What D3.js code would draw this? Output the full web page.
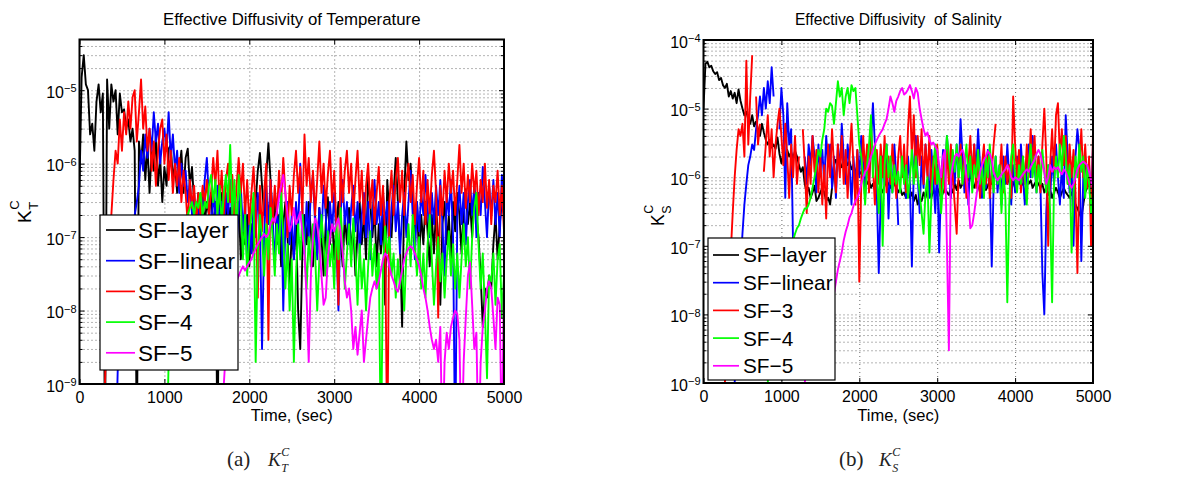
<!DOCTYPE html>
<html><head><meta charset="utf-8">
<script src="https://cdn.jsdelivr.net/npm/d3@7/dist/d3.min.js"></script>
<style>body{margin:0;background:#fff}svg{display:block}text{white-space:pre}</style>
</head><body>
<svg id="chart" width="1188" height="477"></svg>
<script>
// ---------------- data ----------------
const seriesNames = ["SF−layer", "SF−linear", "SF−3", "SF−4", "SF−5"];
const timeStep = 25;               // sec between samples
const timeDomain = [0, 5000];
const xTickValues = [0, 1000, 2000, 3000, 4000, 5000];
const yTickValuesT = [1e-9, 1e-8, 1e-7, 1e-6, 1e-5];
const yTickValuesS = [1e-9, 1e-8, 1e-7, 1e-6, 1e-5, 1e-4];
const yDomainT = [1e-9, 4.9e-5];
const yDomainS = [1e-9, 1e-4];
const titleT = "Effective Diffusivity of Temperature";
const titleS = "Effective Diffusivity  of Salinity";
const xLabel = "Time, (sec)";

// K_T^C, one sample every 25 s from 0 to 5000 s (null = not plotted)
const KT_layer = [
5e-7,1.5e-5,3e-5,1.2e-5,1e-5,2.5e-6,3.5e-6,1.5e-6,
7e-6,1.2e-5,5e-6,9e-6,1e-10,1.4e-5,3e-6,1.2e-5,
7e-6,1e-5,2.5e-6,9e-6,5e-6,5.5e-6,3e-6,4e-6,
2e-6,3e-6,1.5e-6,1e-10,2e-6,1e-6,2.5e-6,6e-7,
1.8e-6,4e-7,1.5e-6,8e-7,2.5e-6,5e-7,1.2e-6,3e-7,
9e-7,5e-7,1.6e-6,1.8e-6,6e-7,1e-6,4e-7,8e-7,
1.5e-6,4e-7,1.2e-6,1.6e-6,5e-7,9e-7,3e-7,2e-7,
4e-7,2.5e-7,3.5e-7,1.5e-7,3e-7,2e-7,4e-7,1.2e-7,
3e-7,1e-10,2.5e-7,4e-7,2e-7,3e-7,1e-7,2.5e-7,
6e-8,2e-7,1.2e-7,3e-7,5e-8,1.5e-7,8e-8,2e-7,
4e-8,1.5e-7,6e-8,3e-7,8e-7,1.4e-6,5e-7,2e-7,
7e-7,1.9e-6,6e-7,1.5e-7,3e-7,8e-8,2e-7,4e-8,
1.5e-7,3e-7,1e-7,2e-8,1.2e-7,5e-8,2e-7,1e-8,
3e-9,6e-8,2e-7,8e-8,3e-7,1.2e-7,4e-8,2e-7,
6e-8,2.5e-7,1e-7,3e-8,1.5e-7,3.5e-7,8e-8,2e-7,
5e-8,1.5e-7,3e-7,1e-7,4e-8,2e-7,8e-8,2.5e-7,
6e-8,1.5e-7,3e-8,1.2e-7,3e-7,8e-8,2e-7,5e-8,
7e-7,3e-7,1e-7,2.5e-7,4e-8,1.5e-7,6e-8,2e-7,
1.2e-8,6e-7,2e-7,1e-7,4e-7,1.2e-6,3e-7,8e-8,
6e-9,4e-7,2e-6,6e-7,1e-6,3e-7,1e-7,3e-7,
5e-8,2e-7,8e-8,3e-7,1.2e-7,4e-8,2e-7,6e-8,
2.5e-7,1e-7,1.2e-8,1.5e-7,3e-7,8e-8,2e-7,5e-8,
3e-7,1.2e-7,4e-7,2e-7,6e-8,2.5e-7,4.5e-7,1.5e-7,
3e-7,1e-7,5e-7,2e-7,1e-7,3e-8,6e-9,2e-8,
1.5e-8,3e-8,2e-8,8e-8,2e-7,5e-8,1.5e-7,3e-7,
2e-7];
const KT_linear = [
null,null,null,null,null,null,null,null,
null,null,null,null,null,null,null,null,
null,1e-10,1.5e-9,4e-9,1e-8,2e-8,4e-8,6e-8,
1e-7,1.5e-7,2e-7,3e-7,5e-7,1.5e-6,8e-7,2.5e-6,
1.2e-6,3e-6,1.5e-6,5e-6,2e-6,3.5e-6,1e-6,2e-6,
3e-6,1.5e-6,5e-6,1.2e-6,2.5e-6,8e-7,1.5e-6,4e-7,
1e-6,5e-7,8e-7,3e-7,6e-7,2e-7,4e-7,1.5e-7,
3e-7,1e-7,2.5e-7,6e-7,1.2e-6,3e-7,1e-7,4e-7,
2e-7,5e-7,1.5e-7,3e-7,8e-8,4e-7,2e-7,6e-7,
1.5e-7,3e-7,7e-8,2.5e-7,5e-7,1.2e-7,3e-7,4e-8,
2e-7,6e-8,3e-7,1e-7,4e-7,1.5e-7,3e-9,1e-7,
5e-7,1.5e-7,6e-7,2e-7,4e-8,2.5e-7,1e-7,4e-7,
1e-8,1.5e-7,3e-7,8e-8,2e-7,5e-8,3e-7,1.2e-7,
1e-6,2.5e-7,6e-8,3e-7,1e-7,4e-7,7e-7,1.5e-7,
5e-8,2.5e-7,1e-7,5e-7,2e-7,6e-8,3e-7,1.2e-7,
4e-7,1e-7,1e-8,2e-7,6e-7,1.5e-7,3e-7,8e-8,
2.5e-7,5e-7,1.2e-7,3e-7,6e-8,2e-7,4e-7,1e-7,
3e-7,5e-8,2e-7,6e-7,1.5e-7,3e-7,8e-8,4e-7,
1.5e-7,3e-7,7e-8,2.5e-7,5e-7,1.2e-7,3e-7,6e-8,
2e-7,4e-7,1e-7,3e-7,8e-7,2e-7,5e-8,3e-7,
1.2e-7,4e-7,2e-7,7e-7,2.5e-7,1e-7,4e-7,1.5e-7,
5e-7,2e-7,6e-7,1.5e-7,3e-8,4e-7,2e-7,6e-7,
1e-7,1e-10,2e-7,5e-7,1.5e-7,4e-7,8e-8,3e-7,
6e-7,2e-7,5e-7,1e-7,4e-7,2e-7,9e-7,3e-7,
1e-7,5e-7,2e-7,6e-7,1.5e-7,4e-7,1e-7,7e-7,
2e-7];
const KT_sf3 = [
null,null,null,null,null,null,null,null,
null,null,null,1e-10,1e-9,1e-8,5e-8,2e-7,
6e-7,1.5e-6,1e-6,4e-6,1.5e-6,5e-6,2.5e-6,7e-6,
3e-6,8e-6,1e-5,2e-6,5e-6,1.4e-5,3e-6,6e-6,
1.5e-6,3e-6,8e-7,2e-6,5e-7,1.5e-6,3e-6,4e-6,
1e-6,2.5e-6,6e-7,1.5e-6,4e-7,1e-6,5e-7,1.2e-6,
3e-7,8e-7,4e-7,1.5e-7,6e-7,2.5e-7,5e-7,1.5e-7,
4e-7,2e-7,5e-7,3e-7,6e-7,2e-7,4e-7,1.2e-6,
5e-7,1.5e-6,3e-7,8e-7,2e-7,6e-7,1e-6,3e-7,
7e-7,1.5e-7,5e-7,1.2e-6,4e-7,1e-6,2e-7,6e-7,
1.5e-7,4e-7,9e-7,2.5e-7,1.5e-8,5e-7,1.2e-7,4e-7,
1e-6,4e-9,6e-7,1.5e-7,5e-7,2e-7,8e-7,3e-7,
1.2e-6,4e-7,1e-7,5e-7,2e-7,7e-7,1.5e-6,4e-7,
9e-7,2e-7,2.5e-6,5e-7,1.2e-6,3e-7,8e-7,2e-7,
6e-7,2e-6,4e-7,1e-6,2.5e-7,7e-7,1.5e-6,3e-7,
8e-7,1.5e-7,1.2e-8,1.2e-6,3e-7,8e-7,1.5e-6,4e-7,
1e-6,2e-7,6e-7,1.5e-6,3e-7,8e-7,1.5e-7,5e-7,
1e-6,2.5e-7,6e-7,1.5e-7,4e-7,9e-7,2e-7,5e-7,
1e-7,1e-10,3e-7,8e-7,2e-7,6e-7,1.2e-6,3e-7,
8e-7,2e-7,6e-7,1e-6,3e-7,7e-7,1.5e-7,5e-7,
1.2e-6,3e-7,8e-7,1.5e-7,6e-7,2e-7,7e-7,1.5e-6,
4e-7,8e-9,5e-7,2e-7,8e-7,3e-7,1e-6,4e-7,
8e-7,2e-7,6e-7,1.8e-6,4e-7,1e-6,2.5e-7,7e-7,
3e-7,1e-6,4e-7,8e-7,2e-7,6e-7,3e-7,1e-6,
2.5e-7,6e-7,1.5e-7,5e-7,3e-7,8e-7,2e-7,5e-7,
1.2e-7];
const KT_sf4 = [
null,null,null,null,null,null,null,null,
null,null,null,null,null,null,null,null,
null,null,null,null,null,null,null,null,
null,null,null,null,null,null,null,null,
null,null,null,null,null,null,null,null,
null,1e-10,2e-9,6e-9,1.5e-8,3e-8,5e-8,8e-8,
1e-7,1.3e-7,1.6e-7,2e-7,2.5e-7,3e-7,2e-7,3e-7,
2.5e-7,4e-7,2e-7,3e-7,2.5e-7,5e-7,7e-7,3e-7,
6e-7,2e-7,5e-7,1.5e-7,4e-7,7e-7,3e-7,1.8e-6,
2e-7,6e-7,1e-7,7e-7,3e-7,5e-8,2e-7,3e-8,
1e-7,2e-7,4e-7,2e-9,6e-8,2e-7,1e-7,3e-8,
1.5e-7,5e-8,2.5e-7,1e-7,3e-8,1.5e-7,6e-8,4e-7,
1e-7,2e-8,8e-8,1e-8,5e-8,2e-9,3e-8,1.5e-7,
5e-8,2e-7,8e-8,2e-8,1e-7,4e-8,1.5e-7,6e-8,
1e-8,5e-8,2e-7,8e-8,3e-8,1.2e-7,4e-8,8e-8,
2e-8,1.5e-7,5e-8,2.5e-7,8e-8,2e-8,6e-8,1.5e-7,
4e-8,1.8e-7,6e-8,1.2e-8,8e-8,2e-8,5e-8,1e-8,
4e-8,1.2e-7,3e-8,8e-8,2e-8,6e-8,1e-10,4e-8,
1.4e-7,6e-8,1e-7,3e-8,6e-8,1.5e-8,5e-8,2e-8,
4e-8,1e-8,6e-8,1.5e-7,4e-8,2e-7,8e-8,3e-8,
1e-7,2e-8,6e-8,1.5e-8,8e-8,2e-7,5e-8,1.2e-8,
4e-8,1e-7,2.5e-8,6e-8,1.5e-8,5e-8,1.2e-7,3e-8,
8e-8,2e-8,6e-8,1.5e-8,5e-8,1.5e-7,4e-8,1e-7,
2e-8,1e-7,2.5e-7,4e-7,8e-8,2e-8,6e-8,1e-8,
1.2e-9,3e-8,2.5e-8,6e-8,1.2e-8,5e-8,8e-8,8e-9,
3e-8];
const KT_sf5 = [
null,null,null,null,null,null,null,null,
null,null,null,null,null,null,null,null,
null,null,null,null,null,null,null,null,
null,null,null,null,null,null,null,null,
null,null,null,null,null,null,null,null,
null,null,null,null,null,null,null,null,
null,null,null,null,null,null,null,null,
null,null,null,null,null,null,null,null,
null,null,null,1e-10,1e-9,3e-9,6e-9,1e-8,
1.5e-8,2e-8,2.5e-8,3e-8,3.5e-8,4e-8,3.5e-8,4e-8,
4.5e-8,5e-8,6e-8,7e-8,8e-8,9e-8,1e-7,1.1e-7,
1e-7,1.1e-7,1.5e-7,1.8e-7,1.6e-7,2.2e-7,3.5e-7,5e-7,
7e-7,4e-7,2e-7,1.2e-7,1.5e-7,2.5e-7,1.5e-7,1.8e-7,
2.2e-7,1.2e-7,6e-8,1.5e-8,2e-9,3e-8,1e-7,1.8e-7,
1.5e-7,8e-8,3e-8,1.2e-8,1.5e-8,5e-8,1e-7,1.5e-7,
1.2e-7,1.5e-7,1.8e-7,1.2e-7,6e-8,2.5e-8,1.5e-8,2e-8,
1e-8,3e-9,6e-9,2.5e-9,5e-9,1e-8,2e-9,4e-9,
8e-9,1.5e-8,2e-8,2.5e-8,2e-8,2.5e-8,3.5e-8,5e-8,
6e-8,5.5e-8,4e-8,3e-8,2.5e-8,2e-8,1.8e-8,2.5e-8,
3.5e-8,5e-8,6e-8,7e-8,7.5e-8,7e-8,6e-8,5e-8,
4e-8,3e-8,2e-8,1.5e-8,1e-8,6e-9,4e-9,3e-9,
4e-9,2e-9,6e-9,1e-10,2e-9,5e-9,3e-9,6e-9,
8e-9,1e-8,9e-9,4e-9,1e-10,2e-9,8e-9,3e-8,
4.5e-8,1.2e-8,3e-9,5e-9,1e-10,2e-9,6e-9,1e-8,
2e-8,2.5e-8,2e-8,8e-9,3e-9,1.5e-8,1.2e-8,1e-10,
3e-8];

// K_S^C, one sample every 25 s from 0 to 5000 s (null = not plotted)
const KS_layer = [
1e-5,4.5e-5,4.8e-5,4e-5,4.2e-5,3.5e-5,3.2e-5,3.4e-5,
2.6e-5,2.8e-5,2.2e-5,2e-5,2.3e-5,1.5e-5,1.8e-5,1.4e-5,
1.7e-5,1.2e-5,1.9e-5,1.3e-5,1e-5,8e-6,9e-6,7e-6,
6e-6,8e-6,5.5e-6,6.5e-6,5e-6,4e-6,6e-6,4.5e-6,
3.5e-6,3e-6,3.5e-6,2.7e-6,3e-6,2.6e-6,3.8e-6,2.2e-6,
1.6e-6,2.2e-6,1.8e-6,2.5e-6,2e-6,2.3e-6,1.9e-6,2.4e-6,
2e-6,1.5e-6,1.2e-6,1.4e-6,8e-7,6e-7,7e-7,5e-7,
6e-7,7.5e-7,4.5e-7,5e-7,6e-7,7e-7,6e-7,4.5e-7,
5e-7,4e-7,7e-7,1.5e-6,1.8e-6,1.6e-6,1.7e-6,1.4e-6,
1.6e-6,1.8e-6,1.5e-6,1.7e-6,1.3e-6,1.5e-6,1.2e-6,1.3e-6,
1.1e-6,1.2e-6,9e-7,1e-6,8e-7,9e-7,7e-7,8e-7,
6.5e-7,7e-7,6e-7,7e-7,6e-7,7.5e-7,9e-7,8e-7,
7e-7,9e-7,8e-7,7e-7,6e-7,7e-7,5.5e-7,6e-7,
5e-7,6.5e-7,5e-7,6e-7,4.5e-7,5.5e-7,4e-7,5e-7,
4.5e-7,6e-7,5e-7,7e-7,6e-7,5e-7,6.5e-7,5.5e-7,
7e-7,6e-7,5e-7,6e-7,7e-7,6e-7,5.5e-7,7e-7,
6e-7,8e-7,6.5e-7,9e-7,7e-7,8e-7,1e-6,1.2e-6,
9e-7,1.1e-6,8e-7,7e-7,9e-7,8e-7,6e-7,7e-7,
8e-7,6.5e-7,7.5e-7,9e-7,8e-7,1e-6,1.2e-6,9e-7,
1.1e-6,8e-7,7e-7,9e-7,8e-7,1e-6,7.5e-7,8.5e-7,
7e-7,8e-7,9e-7,7.5e-7,8e-7,9e-7,1e-6,8e-7,
9e-7,7e-7,8e-7,9e-7,8e-7,7e-7,8e-7,6e-7,
7e-7,5.5e-7,6.5e-7,5e-7,6e-7,7e-7,6e-7,5e-7,
6e-7,7e-7,6e-7,5.5e-7,5e-7,6e-7,5e-7,4e-7,
3.5e-7,3e-7,2.5e-7,4e-7,6e-7,7e-7,8e-7,6e-7,
7e-7];
const KS_linear = [
null,null,null,null,null,null,null,null,
null,null,null,null,null,null,null,1e-10,
1e-9,4e-9,1.5e-8,5e-8,1.5e-7,4e-7,8e-7,1.5e-6,
2e-6,3e-6,2.5e-6,5e-6,8e-6,1.5e-5,8e-6,2e-5,
1e-5,2.5e-5,1.2e-5,4e-5,1.5e-5,null,null,5e-6,
2e-5,8e-6,5e-7,1.2e-5,3e-6,5e-6,1e-7,null,
null,null,null,null,2e-6,8e-7,3e-6,1.5e-6,
4e-6,2e-6,6e-7,3e-6,1.2e-6,2.5e-6,8e-7,4e-6,
1.5e-6,3e-6,7e-7,2e-6,5e-7,3e-6,1.2e-6,6e-6,
2e-6,8e-7,3e-6,1.5e-6,4e-7,2e-6,7e-7,2.5e-6,
1e-6,4e-6,1.5e-6,5e-7,2e-6,8e-7,3e-6,1.2e-5,
3e-6,6e-7,4e-8,5e-7,2e-6,8e-7,3e-6,2.5e-7,
1.5e-6,6e-7,3e-6,1e-6,2e-7,null,null,1.5e-6,
5e-7,2e-6,8e-7,5e-8,1.5e-6,4e-6,1e-6,3e-7,
2e-6,7e-7,3e-6,1.2e-6,5e-7,2.5e-6,1e-6,3e-7,
1.5e-6,8e-8,8e-7,2.5e-6,1e-6,4e-6,1.5e-6,5e-7,
2e-6,8e-7,3e-6,1e-6,7e-6,2e-6,6e-7,1.5e-6,
4e-7,2e-6,8e-7,3e-6,1.2e-6,5e-6,1.5e-6,5e-7,
2e-6,7e-7,2.5e-6,1e-6,5e-8,8e-7,2e-6,6e-7,
1.5e-6,4e-7,2e-6,8e-7,3e-6,1e-6,4e-7,1.5e-6,
6e-7,2e-6,8e-7,3e-6,1e-6,4e-7,1.5e-6,3e-6,
1e-6,4e-6,1.5e-6,6e-7,2e-6,8e-7,4e-8,1e-8,
3e-7,1.5e-6,5e-7,2e-6,8e-7,3e-6,1e-6,4e-7,
1.5e-6,5e-7,8e-6,2e-6,6e-7,1.5e-6,1e-7,2e-6,
5e-6,2.5e-6,6e-8,1e-6,2e-6,8e-7,1.5e-6,4e-7,
3e-6];
const KS_sf3 = [
null,null,null,null,null,null,null,null,
null,null,1e-10,1e-9,5e-9,2e-8,8e-8,3e-7,
1e-6,2.5e-6,5e-6,4e-6,6e-6,2e-6,5e-5,3e-6,
1.5e-5,6e-5,null,1.5e-5,3e-6,6e-6,null,1.2e-6,
3e-6,8e-6,2e-6,5e-6,1e-6,3e-6,6e-6,1e-5,
4e-6,1.5e-6,6e-6,2e-6,5e-7,3e-6,1e-6,4e-6,
8e-7,2e-6,null,5e-6,1.5e-6,3e-7,2e-6,8e-7,
4e-6,1.2e-6,2.5e-6,6e-7,2e-6,4e-7,1.5e-6,2.5e-7,
3e-6,1e-6,5e-6,1.5e-6,6e-7,3e-6,1e-6,4e-6,
8e-7,2.5e-6,5e-7,2e-6,6e-6,1.5e-6,4e-7,2.5e-6,
3e-8,8e-7,4e-6,1.2e-6,3e-6,6e-7,5e-6,1.5e-6,
4e-7,2.5e-6,8e-7,3e-6,1e-6,4e-6,6e-7,2e-6,
8e-7,3e-6,1.2e-6,5e-7,2e-6,4e-6,1e-6,3e-6,
6e-7,5e-6,1.5e-5,2e-6,8e-6,1e-6,4e-6,1.5e-6,
5e-6,8e-7,3e-6,1e-6,4e-6,6e-7,2e-6,8e-7,
3e-6,1e-6,5e-7,2e-6,6e-7,2.5e-6,8e-7,3e-6,
1e-6,4e-7,1.5e-7,1.2e-6,3e-6,8e-7,2e-6,5e-7,
1.5e-6,4e-6,1e-6,3e-6,7e-7,2e-6,5e-7,1.5e-6,
3e-6,8e-7,2e-6,5e-7,1.2e-6,3e-6,6e-6,null,
1e-6,3e-6,6e-7,2e-6,8e-7,1.5e-6,5e-7,1.5e-5,
3e-6,1e-6,2.5e-6,6e-7,2e-6,8e-7,3e-6,1e-6,
5e-6,1.5e-6,4e-6,8e-7,2e-6,6e-7,3e-6,1e-5,
2e-6,1e-7,1.5e-6,5e-6,1.2e-6,8e-6,1.2e-5,2e-6,
5e-6,1.5e-6,4e-6,8e-7,3e-6,1e-6,2.5e-6,6e-7,
4e-8,1.5e-6,5e-6,1e-6,3e-6,7e-7,2e-6,1e-7,
5e-6];
const KS_sf4 = [
null,null,null,null,null,null,null,null,
null,null,null,null,null,null,null,null,
null,null,null,null,null,null,null,null,
null,null,null,null,null,null,null,null,
1e-10,1e-9,3e-9,6e-9,1e-8,1.5e-8,2e-8,3e-8,
4e-8,5e-8,6e-8,7e-8,8e-8,1e-7,1.2e-7,1.5e-7,
1.8e-7,2e-7,2.5e-7,3e-7,3.5e-7,3.5e-7,4e-7,5e-7,
7e-7,1e-6,1.5e-6,2.5e-6,2e-6,3.5e-6,5e-6,1e-5,
9e-6,1.2e-5,1.1e-5,6e-6,1.2e-5,2.5e-5,1.5e-5,2e-5,
8e-6,1.5e-5,2e-5,1.2e-5,2.2e-5,1.8e-5,2e-5,8e-6,
3e-6,2e-6,1e-6,4e-7,1.5e-6,3e-6,8e-6,1e-6,
3e-6,1.2e-6,3e-7,2e-6,1e-7,1.5e-6,3e-6,1e-6,
2e-6,6e-7,1.5e-6,8e-7,1.2e-6,6e-7,2e-6,8e-7,
1.5e-6,5e-7,1e-6,2.5e-6,8e-7,2e-6,1e-6,6e-7,
3e-7,1.5e-7,6e-7,1e-6,8e-8,5e-7,1.5e-6,3e-6,
8e-7,1.5e-6,3e-7,8e-7,1.5e-6,4e-6,2e-6,1e-6,
2.5e-6,1.2e-6,3e-6,1e-6,2e-6,8e-7,1.5e-6,3e-6,
1e-6,2e-6,6e-7,1.5e-6,1e-6,2.5e-6,8e-7,1.5e-6,
5e-7,2e-6,1e-6,3e-6,1.2e-6,6e-7,2e-6,8e-7,
1.5e-6,3e-7,1.2e-6,5e-7,1.5e-8,4e-7,2e-6,3e-6,
1e-6,6e-7,1.5e-6,8e-7,2e-6,1e-6,4e-7,1.5e-6,
3e-6,1e-6,2e-6,6e-7,1.5e-6,8e-7,2.5e-6,1.2e-6,
6e-7,1.5e-6,3e-7,1.5e-8,8e-7,2e-6,1e-6,3e-6,
1.2e-6,4e-6,2e-6,8e-7,1.5e-6,8e-8,6e-7,2e-6,
1e-6,3e-6,1.2e-6,2e-6,5e-7,1.5e-6,8e-7,3e-7,
6e-7];
const KS_sf5 = [
null,null,null,null,null,null,null,null,
null,null,null,null,null,null,null,null,
null,null,null,null,null,null,null,null,
null,null,null,null,null,null,null,null,
null,null,null,null,null,null,null,null,
null,null,null,null,null,null,null,null,
null,null,null,1e-10,1e-9,2e-9,3e-9,4.5e-9,
6e-9,8e-9,1e-8,1.2e-8,1.4e-8,1.6e-8,1.8e-8,1.9e-8,
2e-8,2e-8,2e-8,2e-8,3e-8,4.5e-8,6e-8,8e-8,
1.2e-7,1.6e-7,2e-7,2.6e-7,3e-7,3.8e-7,4.5e-7,5e-7,
6e-7,8e-7,1e-6,1.2e-6,1.3e-6,1.6e-6,2e-6,2.5e-6,
3e-6,3.5e-6,4e-6,4.5e-6,5e-6,6e-6,7e-6,1e-5,
1.5e-5,1.2e-5,9e-6,1.3e-5,1.5e-5,1.8e-5,2e-5,1.6e-5,
1.7e-5,1.9e-5,2.2e-5,1.8e-5,1.4e-5,2e-5,1.7e-5,1e-5,
7e-6,5e-6,4e-6,4.5e-6,3.5e-6,3e-6,3.2e-6,2.8e-6,
2.5e-6,1.5e-6,1e-6,2e-6,2.5e-6,1e-7,3e-9,1e-6,
1.5e-6,2e-6,2.2e-6,2e-6,2.3e-6,2.5e-6,2e-6,1e-6,
5e-7,1.8e-7,2e-7,3e-7,5e-7,8e-7,1.2e-6,1.5e-6,
1.8e-6,2e-6,2.4e-6,2.2e-6,1.8e-6,1.2e-6,1e-6,9e-7,
1e-6,1.1e-6,1.2e-6,1.3e-6,1.5e-6,1.3e-6,1e-6,9e-7,
1e-6,9.5e-7,9e-7,1e-6,1.1e-6,1.2e-6,1.3e-6,1.2e-6,
1.4e-6,1.6e-6,1.8e-6,2.2e-6,2.5e-6,2.2e-6,1.6e-6,1.2e-6,
8e-7,1e-6,1.5e-6,1.2e-6,1.4e-6,1.3e-6,1.4e-6,1.2e-6,
1.1e-6,1.3e-6,1.2e-6,1e-6,8e-7,7e-7,8e-7,1e-6,
1.3e-6,1.5e-6,1.6e-6,1.7e-6,1.6e-6,1.5e-6,1.2e-6,9e-7,
7e-7];

// ---------------- style / layout ----------------
const colors = ["#000000", "#0000ff", "#ff0000", "#00ff00", "#ff00ff"];
const FONT = "'Liberation Sans', Arial, Helvetica, sans-serif";
const SERIF = "'Liberation Serif', 'Times New Roman', serif";

const panels = [
  { id: "T", x0: 79.5, x1: 504, y0: 39.5, y1: 384, yDomain: yDomainT, yTicks: yTickValuesT,
    series: [KT_layer, KT_linear, KT_sf3, KT_sf4, KT_sf5], title: titleT, titleSize: 16.8,
    sub: "T", label: { x: 31, y: 223, k: 19, s: 13, up: -12, down: 7 },
    legend: { x: 100, y: 215, w: 138, h: 155, first: 230, step: 30.7, lx0: 106, lx1: 135, tx: 138, fs: 22.5 },
    caption: { x: 227, kx: 268, letter: "(a)" } },
  { id: "S", x0: 703.5, x1: 1093, y0: 40, y1: 383, yDomain: yDomainS, yTicks: yTickValuesS,
    series: [KS_layer, KS_linear, KS_sf3, KS_sf4, KS_sf5], title: titleS, titleSize: 15.6,
    sub: "S", label: { x: 664, y: 226, k: 17.5, s: 12.5, up: -11, down: 7 },
    legend: { x: 708, y: 238, w: 127, h: 142, first: 255, step: 27.7, lx0: 713, lx1: 739, tx: 743, fs: 20.8 },
    caption: { x: 839, kx: 879, letter: "(b)" } }
];

const svg = d3.select("#chart");
svg.append("rect").attr("width", 1188).attr("height", 477).attr("fill", "#fff");

// K with superscript C and subscript (stacked, placed right after K)
function kLabel(parent, x0, yBase, kSize, sSize, up, down, sub, italic) {
  const k = parent.append("text").attr("x", x0).attr("y", yBase).attr("font-size", kSize).text("K");
  if (italic) k.attr("font-style", "italic");
  const kw = k.node().getComputedTextLength();
  const c = parent.append("text").attr("x", x0 + kw + 0.5).attr("y", yBase + up).attr("font-size", sSize).text("C");
  const s = parent.append("text").attr("x", x0 + kw + 0.5).attr("y", yBase + down).attr("font-size", sSize).text(sub);
  if (italic) { c.attr("font-style", "italic"); s.attr("font-style", "italic"); }
}

panels.forEach(p => {
  const w = p.x1 - p.x0, h = p.y1 - p.y0;
  const g = svg.append("g").attr("transform", `translate(${p.x0},${p.y0})`);
  const x = d3.scaleLinear().domain(timeDomain).range([0, w]);
  const y = d3.scaleLog().domain(p.yDomain).range([h, 0]);

  const minors = [];
  p.yTicks.forEach(d => { for (let m = 2; m <= 9; m++) { const v = m * d; if (v <= p.yDomain[1] * 1.0001) minors.push(v); } });

  // grid
  const grid = g.append("g");
  grid.append("g").call(d3.axisLeft(y).tickValues(minors.concat(p.yTicks)).tickSize(-w).tickFormat(""));
  grid.append("g").call(d3.axisBottom(x).tickValues(xTickValues.slice(1, -1)).tickSize(h).tickFormat(""));
  grid.selectAll(".domain").remove();
  grid.selectAll("line").attr("stroke", "#6a6a6a").attr("stroke-width", 1).attr("stroke-dasharray", "1,3");

  // series
  const clipId = "clip" + p.id;
  g.append("clipPath").attr("id", clipId).append("rect").attr("width", w).attr("height", h);
  const line = d3.line().defined(d => d != null).x((d, i) => x(i * timeStep)).y(d => y(d));
  const lg = g.append("g").attr("clip-path", `url(#${clipId})`);
  p.series.forEach((s, k) => {
    lg.append("path").datum(s).attr("d", line).attr("fill", "none")
      .attr("stroke", colors[k]).attr("stroke-width", 1.9).attr("stroke-linejoin", "round");
  });

  // axes (inward ticks)
  const axes = g.append("g").attr("font-family", FONT);
  const bottom = axes.append("g").attr("transform", `translate(0,${h})`)
    .call(d3.axisBottom(x).tickValues(xTickValues).tickSizeInner(-5).tickSizeOuter(0).tickPadding(8).tickFormat(d3.format("d")));
  axes.append("g").call(d3.axisTop(x).tickValues(xTickValues).tickSizeInner(-5).tickSizeOuter(0).tickFormat(""));
  const left = axes.append("g")
    .call(d3.axisLeft(y).tickValues(p.yTicks).tickSizeInner(-5).tickSizeOuter(0).tickPadding(3));
  axes.append("g").call(d3.axisLeft(y).tickValues(minors).tickSizeInner(-3).tickSizeOuter(0).tickFormat(""));
  axes.append("g").attr("transform", `translate(${w},0)`)
    .call(d3.axisRight(y).tickValues(p.yTicks).tickSizeInner(-5).tickSizeOuter(0).tickFormat(""));
  axes.append("g").attr("transform", `translate(${w},0)`)
    .call(d3.axisRight(y).tickValues(minors).tickSizeInner(-3).tickSizeOuter(0).tickFormat(""));
  axes.selectAll(".domain").remove();
  axes.selectAll(".tick line").attr("stroke", "#000").attr("stroke-width", 1);
  bottom.selectAll("text").attr("font-size", 16).attr("fill", "#000");
  left.selectAll(".tick text").each(function (d) {
    const t = d3.select(this).text(null).attr("font-size", 16).attr("fill", "#000").attr("dy", "0.45em");
    t.append("tspan").text("10");
    t.append("tspan").attr("dy", "-0.5em").attr("font-size", 11).text("−" + Math.round(-Math.log10(d)));
  });

  // frame
  g.append("rect").attr("width", w).attr("height", h).attr("fill", "none").attr("stroke", "#000").attr("stroke-width", 2);

  // title & x label
  svg.append("text").attr("x", (p.x0 + p.x1) / 2).attr("y", 25).attr("text-anchor", "middle")
    .attr("font-family", FONT).attr("font-size", p.titleSize).text(p.title);
  svg.append("text").attr("x", (p.x0 + p.x1) / 2).attr("y", 421).attr("text-anchor", "middle")
    .attr("font-family", FONT).attr("font-size", 16.5).text(xLabel);

  // y label K_T^C (rotated)
  const yl = svg.append("g").attr("transform", `translate(${p.label.x},${p.label.y}) rotate(-90)`).attr("font-family", FONT);
  kLabel(yl, 0, 0, p.label.k, p.label.s, p.label.up, p.label.down, p.sub, false);

  // legend
  const L = p.legend;
  const lgd = svg.append("g").attr("font-family", FONT);
  lgd.append("rect").attr("x", L.x).attr("y", L.y).attr("width", L.w).attr("height", L.h)
    .attr("fill", "#fff").attr("stroke", "#000").attr("stroke-width", 1.2);
  seriesNames.forEach((name, k) => {
    const yy = L.first + k * L.step;
    lgd.append("line").attr("x1", L.lx0).attr("x2", L.lx1).attr("y1", yy).attr("y2", yy)
      .attr("stroke", colors[k]).attr("stroke-width", 1.7);
    lgd.append("text").attr("x", L.tx).attr("y", yy).attr("dy", "0.36em").attr("font-size", L.fs).text(name);
  });

  // caption
  const C = p.caption;
  const cap = svg.append("g").attr("font-family", SERIF).attr("fill", "#222");
  cap.append("text").attr("x", C.x).attr("y", 466).attr("font-size", 21).text(C.letter);
  kLabel(cap, C.kx, 466, 19, 12, -10, 6, p.sub, true);
});
</script>
</body></html>
